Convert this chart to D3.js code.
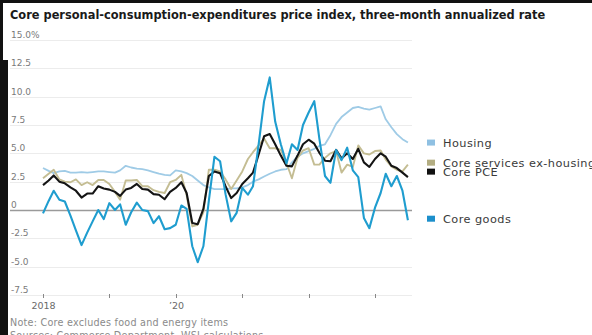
<!DOCTYPE html>
<html>
<head>
<meta charset="utf-8">
<script src="https://cdn.jsdelivr.net/npm/d3@7"></script>
<style>
  body { margin: 0; background: #fff; }
  svg { display: block; }
  text { font-family: "DejaVu Sans", sans-serif; }
</style>
</head>
<body>
<div id="chart"></div>
<script>
// Declare constants
const FRAME_WIDTH = 592;
const FRAME_HEIGHT = 335;

// months, Jan 2018 to Jul 2023
const FIRST_MONTH = "2018-01-01";
const LAST_MONTH = "2023-07-01";

const housing = [3.7, 3.45, 3.25, 3.4, 3.45, 3.3, 3.3, 3.35, 3.3, 3.35, 3.4, 3.4,
  3.35, 3.3, 3.5, 3.9, 3.75, 3.65, 3.6, 3.5, 3.35, 3.2, 3.1, 3.05,
  3.5, 3.4, 3.25, 3.0, 2.6, 2.2, 2.0, 1.85, 1.85, 1.85, 1.9, 1.9,
  2.0, 2.2, 2.5, 2.7, 2.95, 3.2, 3.4, 3.55, 3.6, 4.2, 4.7, 5.0,
  5.2, 5.4, 5.65, 5.8, 6.6, 7.6, 8.2, 8.6, 9.0, 9.1, 8.95, 8.85,
  9.0, 9.15, 8.0, 7.3, 6.7, 6.25, 5.95];

const servicesExHousing = [2.8, 3.2, 3.55, 2.7, 2.5, 2.45, 2.7, 2.2, 2.45, 2.2, 2.65, 2.65,
  2.3, 1.6, 0.9, 2.6, 2.6, 2.65, 2.1, 2.1, 1.75, 1.6, 1.5, 2.45,
  2.65, 3.1, 1.3, -1.45, -1.3, -0.2, 3.55, 3.55, 3.4, 2.7, 1.85, 2.6,
  3.4, 4.5, 5.1, 5.7, 6.3, 5.45, 5.45, 5.3, 4.15, 2.8, 4.6, 5.25,
  5.45, 4.0, 4.0, 4.6, 5.0, 5.2, 3.3, 4.0, 3.8, 5.7, 5.0, 4.9,
  5.2, 5.25, 4.45, 3.85, 3.55, 3.4, 4.0];

const corePCE = [2.2, 2.6, 3.05, 2.5, 2.35, 2.0, 1.7, 1.1, 1.45, 1.45, 2.1, 1.9,
  1.8, 1.6, 1.25, 1.8, 1.95, 2.3, 1.85, 1.8, 1.4, 1.35, 0.95, 1.6,
  1.95, 2.45, 1.5, -1.15, -1.25, 0.1, 3.0, 3.4, 3.25, 2.1, 1.05, 1.5,
  2.3, 2.8, 3.3, 4.9, 6.5, 6.7, 5.8, 4.8, 3.9, 3.85, 4.8, 5.8,
  6.2, 5.85, 5.05, 4.35, 4.3, 5.3, 4.55, 5.0, 4.5, 5.4, 4.2, 3.8,
  4.5, 5.0, 4.7, 3.9, 3.7, 3.3, 2.9];

const coreGoods = [-0.3, 0.8, 1.7, 0.9, 0.75, -0.5, -1.8, -3.1, -2.0, -1.0, 0.0, -0.8,
  0.6, 0.0, 0.5, -1.3, -0.2, 0.65, 0.0, -0.1, -1.15, -0.55, -1.7, -1.6,
  -1.3, 0.4, 0.1, -3.2, -4.6, -3.2, 0.8, 4.7, 4.3, 1.4, -1.0, -0.25,
  1.95, 1.35, 2.1, 5.8, 9.6, 11.7, 7.8, 5.8, 4.1, 5.8, 5.3, 7.5,
  8.6, 9.6, 6.3, 3.0, 2.4, 5.3, 4.4, 5.5, 3.5, 2.9, -0.7, -1.6,
  0.2, 1.5, 3.2, 2.1, 3.0, 1.7, -0.9];

const seriesNames = ["Housing", "Core services ex-housing", "Core PCE", "Core goods"];
const seriesColors = ["#9fcbe6", "#c4bd93", "#141414", "#1f9dcf"];
const legendColors = ["#8fc0e2", "#b3ad82", "#111111", "#1c8fcb"];

const yTicks = [-7.5, -5, -2.5, 0, 2.5, 5, 7.5, 10, 12.5, 15];
const yTickLabels = ["-7.5", "-5.0", "-2.5", "0", "2.5", "5.0", "7.5", "10.0", "12.5", "15.0%"];
const xTickYears = [2018, 2019, 2020, 2021, 2022, 2023];
const xTickLabels = ["2018", "", "\u201920", "", "", ""];

const TITLE = "Core personal-consumption-expenditures price index, three-month annualized rate";
const NOTE = "Note: Core excludes food and energy items";
const SOURCE = "Sources: Commerce Department, WSJ calculations";

const months = d3.timeMonth.range(new Date(FIRST_MONTH + "T00:00"), d3.timeMonth.offset(new Date(LAST_MONTH + "T00:00"), 1));
const allSeries = [housing, servicesExHousing, corePCE, coreGoods];

const svg = d3.select("#chart").append("svg")
  .attr("width", FRAME_WIDTH)
  .attr("height", FRAME_HEIGHT);

// scales
const x = d3.scaleTime()
  .domain([new Date(2018, 0, 1), new Date(2023, 0, 1)])
  .range([43, 375]);
const y = d3.scaleLinear()
  .domain([-7.5, 15])
  .range([295, 40]);

const GRID_LEFT = 10, GRID_RIGHT = 412;

// gridlines + y labels
yTicks.forEach((t, i) => {
  svg.append("line")
    .attr("x1", GRID_LEFT).attr("x2", GRID_RIGHT)
    .attr("y1", Math.round(y(t)) + 0.5).attr("y2", Math.round(y(t)) + 0.5)
    .attr("stroke", t === 0 ? "#9a9a9a" : "#ececec")
    .attr("stroke-width", t === 0 ? 1.3 : 1);
  svg.append("text")
    .attr("x", 11)
    .attr("y", y(t) - 2)
    .attr("font-size", 9)
    .attr("fill", "#7a7a7a")
    .text(yTickLabels[i]);
});

// x ticks
xTickYears.forEach((yr, i) => {
  const xp = Math.round(x(new Date(yr, 0, 1))) + 0.5;
  svg.append("line")
    .attr("x1", xp).attr("x2", xp)
    .attr("y1", y(-7.5) - 1).attr("y2", y(-7.5) + 3)
    .attr("stroke", "#888").attr("stroke-width", 1);
  if (xTickLabels[i]) {
    svg.append("text")
      .attr("x", xp)
      .attr("y", 309)
      .attr("text-anchor", "middle")
      .attr("font-size", 9.5)
      .attr("fill", "#6a6a6a")
      .text(xTickLabels[i]);
  }
});

// lines
const line = d3.line()
  .x((d, i) => x(months[i]))
  .y(d => y(d));

const widths = [1.8, 1.9, 2.1, 2.1];
allSeries.forEach((s, k) => {
  svg.append("path")
    .datum(s)
    .attr("d", line)
    .attr("fill", "none")
    .attr("stroke", seriesColors[k])
    .attr("stroke-width", widths[k])
    .attr("stroke-linejoin", "round");
});

// legend, placed next to each line's last value
const legendNudge = [0, -2, -5.5, -1.5];
allSeries.forEach((s, k) => {
  const cy = y(s[s.length - 1]) + legendNudge[k];
  svg.append("rect")
    .attr("x", 427).attr("y", cy - 3)
    .attr("width", 8).attr("height", 6)
    .attr("fill", legendColors[k]);
  svg.append("text")
    .attr("x", 443)
    .attr("y", cy + 4)
    .attr("font-size", 11.3)
    .attr("letter-spacing", 0.45)
    .attr("fill", "#3a3a3a")
    .text(seriesNames[k]);
});

// title
svg.append("text")
  .attr("x", 10).attr("y", 19)
  .attr("font-size", 11.4)
  .attr("font-weight", "bold")
  .attr("fill", "#1a1a1a")
  .text(TITLE);

// note + source
svg.append("text")
  .attr("x", 10).attr("y", 326)
  .attr("font-size", 9.6)
  .attr("letter-spacing", 0.25)
  .attr("fill", "#8a8a8a")
  .text(NOTE);
svg.append("text")
  .attr("x", 10).attr("y", 338.5)
  .attr("font-size", 9.6)
  .attr("letter-spacing", 0.25)
  .attr("fill", "#8a8a8a")
  .text(SOURCE);

// frame edges
svg.append("rect").attr("x", 0).attr("y", 0).attr("width", FRAME_WIDTH).attr("height", 3).attr("fill", "#111");
svg.append("rect").attr("x", 0).attr("y", 0).attr("width", 3).attr("height", 60).attr("fill", "#111");
svg.append("rect").attr("x", 0).attr("y", 60).attr("width", 8).attr("height", FRAME_HEIGHT - 60).attr("fill", "#111");
</script>
</body>
</html>
